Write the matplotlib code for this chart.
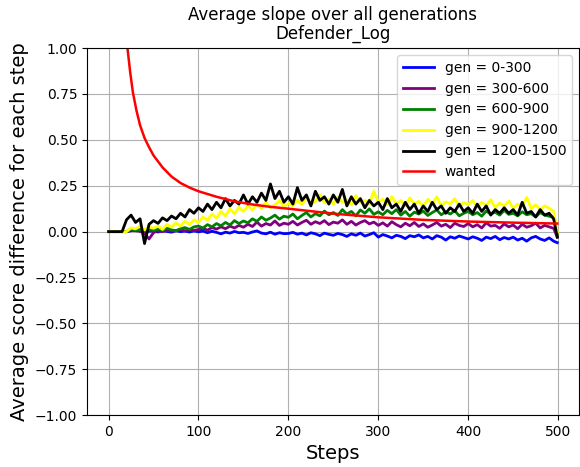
import numpy as np
import matplotlib
matplotlib.use("Agg")
import matplotlib.pyplot as plt

# steps sampled every 5, plus the final step
steps = list(range(0, 500, 5)) + [499]

gen_0_300 = [
    0, 0, 0, 0, 0, 0.005, 0.01, 0.003, -0.004, 0.002,
    0.004, -0.002, 0.006, 0.001, -0.003, 0.005, 0.0, 0.003, -0.002, 0.004,
    -0.001, 0.003, -0.006, 0.002, -0.004, -0.012, -0.003, -0.008, 0.001, -0.006,
    -0.004, -0.010, -0.002, 0.004, -0.008, -0.012, -0.003, -0.014, -0.006, -0.011,
    -0.010, -0.004, -0.014, -0.008, -0.018, -0.006, -0.012, -0.022, -0.008, -0.015,
    -0.020, -0.010, -0.016, -0.026, -0.012, -0.020, -0.008, -0.024, -0.016, -0.006,
    -0.030, -0.016, -0.024, -0.034, -0.020, -0.026, -0.038, -0.022, -0.028, -0.018,
    -0.034, -0.026, -0.040, -0.022, -0.030, -0.046, -0.028, -0.036, -0.024, -0.032,
    -0.040, -0.028, -0.036, -0.048, -0.030, -0.038, -0.026, -0.044, -0.032, -0.040,
    -0.030, -0.046, -0.036, -0.052, -0.034, -0.026, -0.040, -0.048, -0.034, -0.052,
    -0.060,
]
gen_300_600 = [
    0, 0, 0, 0, 0, 0.008, 0.005, 0.002, -0.01, -0.04,
    -0.005, 0.004, 0.0, 0.008, 0.002, 0.006, 0.012, 0.004, 0.010, 0.006,
    0.012, 0.018, 0.008, 0.022, 0.014, 0.026, 0.016, 0.030, 0.020, 0.034,
    0.024, 0.040, 0.028, 0.052, 0.030, 0.044, 0.036, 0.058, 0.034, 0.046,
    0.040, 0.056, 0.036, 0.050, 0.062, 0.040, 0.054, 0.044, 0.060, 0.038,
    0.052, 0.046, 0.064, 0.040, 0.056, 0.036, 0.050, 0.060, 0.042, 0.052,
    0.034, 0.048, 0.030, 0.054, 0.038, 0.026, 0.046, 0.032, 0.050, 0.028,
    0.042, 0.024, 0.036, 0.050, 0.030, 0.040, 0.022, 0.046, 0.034, 0.028,
    0.044, 0.026, 0.038, 0.020, 0.048, 0.030, 0.034, 0.018, 0.042, 0.026,
    0.036, 0.016, 0.040, 0.024, 0.032, 0.046, 0.020, 0.034, 0.026, 0.018,
    -0.030,
]
gen_600_900 = [
    0, 0, 0, 0, 0, 0.015, 0.008, 0.012, 0.004, 0.010,
    0.006, 0.014, 0.008, 0.018, 0.010, 0.004, 0.016, 0.022, 0.012, 0.026,
    0.030, 0.020, 0.038, 0.026, 0.044, 0.032, 0.050, 0.036, 0.060, 0.044,
    0.058, 0.048, 0.070, 0.056, 0.080, 0.062, 0.074, 0.090, 0.068, 0.084,
    0.078, 0.096, 0.070, 0.088, 0.104, 0.080, 0.098, 0.086, 0.112, 0.092,
    0.104, 0.088, 0.120, 0.096, 0.110, 0.086, 0.118, 0.100, 0.124, 0.094,
    0.108, 0.092, 0.116, 0.098, 0.120, 0.090, 0.110, 0.084, 0.106, 0.096,
    0.112, 0.088, 0.104, 0.118, 0.092, 0.108, 0.096, 0.114, 0.086, 0.100,
    0.110, 0.092, 0.104, 0.084, 0.112, 0.096, 0.106, 0.090, 0.116, 0.094,
    0.100, 0.086, 0.108, 0.092, 0.098, 0.080, 0.104, 0.090, 0.084, 0.078,
    -0.020,
]
gen_900_1200 = [
    0, 0, 0, 0, 0, 0.02, 0.015, 0.03, 0.01, 0.025,
    0.018, 0.030, 0.012, 0.040, 0.024, 0.048, 0.030, 0.056, 0.038, 0.064,
    0.050, 0.080, 0.062, 0.096, 0.074, 0.110, 0.086, 0.124, 0.098, 0.132,
    0.110, 0.140, 0.118, 0.152, 0.126, 0.160, 0.130, 0.146, 0.168, 0.136,
    0.154, 0.140, 0.172, 0.148, 0.186, 0.150, 0.164, 0.200, 0.156, 0.176,
    0.150, 0.188, 0.160, 0.174, 0.146, 0.196, 0.158, 0.170, 0.150, 0.220,
    0.160, 0.178, 0.146, 0.190, 0.152, 0.170, 0.140, 0.184, 0.150, 0.166,
    0.138, 0.176, 0.148, 0.190, 0.140, 0.162, 0.152, 0.180, 0.136, 0.158,
    0.148, 0.170, 0.134, 0.160, 0.142, 0.174, 0.130, 0.156, 0.140, 0.166,
    0.128, 0.150, 0.138, 0.186, 0.126, 0.146, 0.120, 0.140, 0.128, 0.110,
    0.000,
]
gen_1200_1500 = [
    0, 0, 0, 0, 0.065, 0.09, 0.05, 0.07, -0.065, 0.04,
    0.06, 0.045, 0.075, 0.06, 0.085, 0.07, 0.10, 0.08, 0.12, 0.10,
    0.13, 0.11, 0.15, 0.12, 0.16, 0.13, 0.18, 0.14, 0.17, 0.15,
    0.20, 0.15, 0.19, 0.16, 0.21, 0.17, 0.26, 0.18, 0.22, 0.16,
    0.19, 0.15, 0.24, 0.17, 0.20, 0.14, 0.22, 0.17, 0.19, 0.15,
    0.20, 0.16, 0.23, 0.14, 0.19, 0.15, 0.18, 0.13, 0.17, 0.14,
    0.16, 0.12, 0.18, 0.13, 0.15, 0.11, 0.16, 0.12, 0.15, 0.10,
    0.14, 0.11, 0.16, 0.12, 0.14, 0.10, 0.13, 0.11, 0.15, 0.11,
    0.13, 0.10, 0.15, 0.11, 0.14, 0.09, 0.12, 0.10, 0.13, 0.10,
    0.12, 0.09, 0.16, 0.10, 0.11, 0.08, 0.12, 0.09, 0.10, 0.07,
    -0.03,
]

# target curve
wanted_steps = [20, 21, 24, 27, 31, 35, 40, 45, 50, 60, 70, 80, 90, 100,
                120, 140, 160, 180, 200, 250, 300, 350, 400, 450, 499]
wanted = [1.05, 1.0, 0.87, 0.76, 0.66, 0.58, 0.51, 0.46, 0.415, 0.35, 0.30,
          0.265, 0.24, 0.22, 0.19, 0.165, 0.148, 0.135, 0.125, 0.098, 0.078,
          0.064, 0.055, 0.049, 0.044]

labels = ["gen = 0-300", "gen = 300-600", "gen = 600-900",
          "gen = 900-1200", "gen = 1200-1500"]
colors = ["blue", "purple", "green", "yellow", "black"]
series = [gen_0_300, gen_300_600, gen_600_900, gen_900_1200, gen_1200_1500]

fig = plt.figure(figsize=(5.8, 4.67), dpi=100)
ax = fig.add_axes([0.150, 0.111, 0.848, 0.786])

for vals, c, lab in zip(series, colors, labels):
    ax.plot(steps, vals, color=c, lw=2, label=lab)
ax.plot(wanted_steps, wanted, color="red", lw=1.8, label="wanted")

ax.set_ylim(-1, 1)
ax.set_xlim(-24, 523)
ax.set_yticks([-1, -0.75, -0.5, -0.25, 0, 0.25, 0.5, 0.75, 1.0])
ax.tick_params(labelsize=10)
ax.grid(True, color="#b0b0b0", lw=0.8)
ax.set_axisbelow(True)

ax.set_xlabel("Steps", fontsize=14)
ax.set_ylabel("Average score difference for each step", fontsize=14)
ax.set_title("Average slope over all generations\nDefender_Log", fontsize=12,
             linespacing=1.05, pad=7)
ax.legend(loc="upper right", fontsize=10, handlelength=2.2)

fig.savefig("out.png", dpi=100)
